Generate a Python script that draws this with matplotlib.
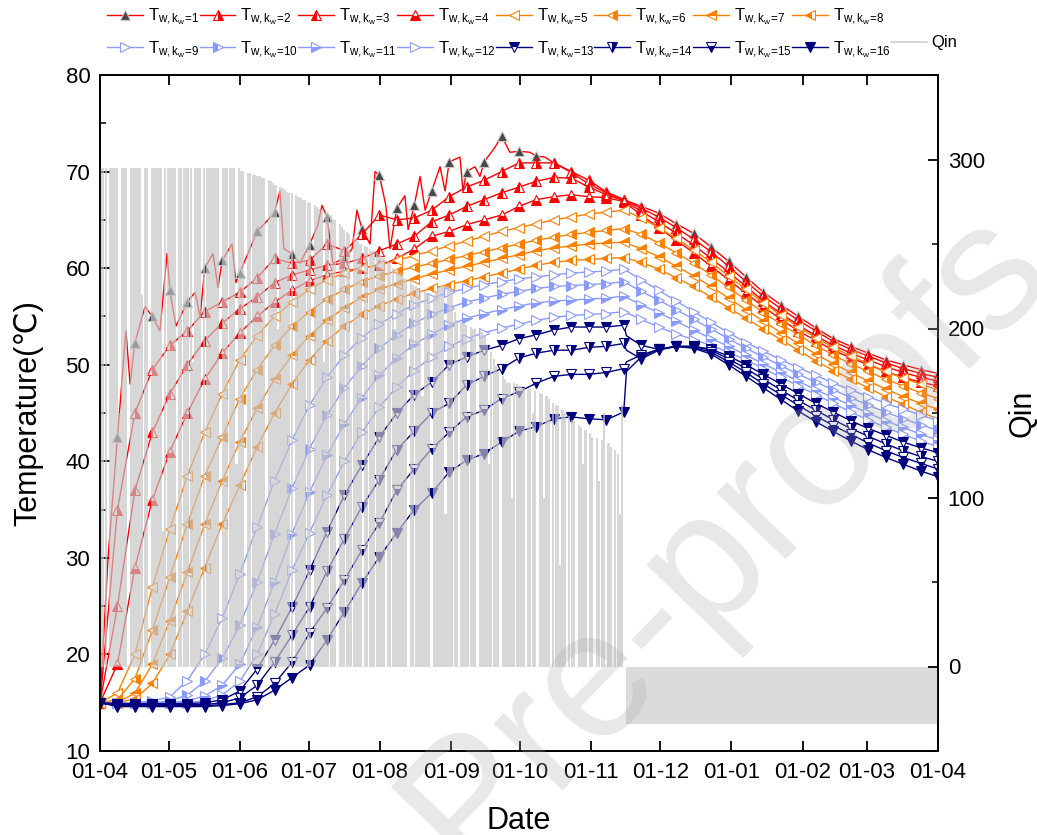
import matplotlib
matplotlib.use('Agg')
import matplotlib.pyplot as plt
from matplotlib.lines import Line2D
from matplotlib.ticker import MultipleLocator, FixedLocator

plt.rcParams['font.family'] = ['Liberation Sans', 'DejaVu Sans']
plt.rcParams['mathtext.fontset'] = 'custom'
plt.rcParams['mathtext.rm'] = 'Liberation Sans'
plt.rcParams['mathtext.it'] = 'Liberation Sans:italic'
plt.rcParams['mathtext.bf'] = 'Liberation Sans:bold'

# ---------------- data ----------------
month_days = [0, 30, 61, 91, 122, 153, 183, 214, 244, 275, 306, 334, 365]
month_labels = ['01-04', '01-05', '01-06', '01-07', '01-08', '01-09', '01-10',
                '01-11', '01-12', '01-01', '01-02', '01-03', '01-04']

STEP = 365 / 48                      # sampling step of the marked points (days)
grid_days = [k * STEP for k in range(49)]

T1 = [15.0, 42.5, 52.3, 55.0, 57.7, 56.5, 60.0, 60.8, 59.5, 63.8, 65.8, 61.5, 62.4, 65.3, 61.0, 64.1,
      69.6, 66.2, 66.5, 68.0, 71.0, 70.0, 71.0, 73.7, 72.1, 71.6, 70.9, 69.9, 68.7, 67.8, 67.1,
      66.4, 65.7, 64.6, 63.6, 62.2, 60.7, 59.1, 57.5, 56.2, 55.0, 53.8, 52.7, 51.9, 51.2, 50.5, 50.0, 49.5, 49.1]
T2 = [15.0, 35.0, 45.0, 49.5, 52.0, 53.5, 55.5, 56.5, 57.5, 59.0, 61.0, 60.5, 60.8, 62.5, 61.8, 63.5,
      65.5, 65.0, 65.2, 66.0, 67.4, 68.4, 69.1, 70.0, 70.9, 70.9, 70.9, 70.0, 69.1, 67.9, 67.1,
      66.2, 65.3, 64.2, 63.0, 61.7, 60.2, 58.6, 57.1, 55.8, 54.6, 53.5, 52.4, 51.6, 50.9, 50.2, 49.6, 49.1, 48.7]
T3 = [15.0, 25.0, 37.0, 43.0, 47.0, 50.0, 52.5, 54.3, 55.8, 57.0, 58.5, 59.3, 59.8, 60.3, 60.5, 61.0,
      61.8, 62.5, 63.3, 64.8, 65.5, 66.4, 67.1, 67.8, 68.4, 69.0, 69.4, 69.3, 68.4, 67.6, 67.0,
      65.9, 64.8, 63.6, 62.4, 61.0, 59.6, 58.1, 56.6, 55.3, 54.1, 53.0, 52.0, 51.2, 50.5, 49.8, 49.2, 48.7, 48.3]
T4 = [15.0, 19.0, 29.0, 36.0, 41.0, 45.0, 48.5, 51.2, 53.3, 55.0, 56.5, 57.7, 58.7, 59.3, 59.7, 60.0,
      60.3, 61.0, 62.0, 63.3, 63.8, 64.5, 65.0, 65.5, 66.4, 67.1, 67.4, 67.6, 67.4, 67.3, 66.9,
      65.5, 64.2, 62.9, 61.6, 60.2, 58.8, 57.4, 56.0, 54.7, 53.5, 52.5, 51.5, 50.7, 50.0, 49.3, 48.7, 48.2, 47.8]
T5 = [15.0, 16.0, 20.0, 27.0, 33.0, 38.5, 43.0, 47.0, 50.5, 53.0, 55.0, 56.5, 57.8, 58.8, 59.5, 60.0,
      60.3, 60.8, 61.3, 61.8, 62.3, 62.8, 63.3, 63.8, 64.2, 64.6, 65.0, 65.3, 65.6, 65.8, 66.0,
      65.2, 64.2, 63.1, 61.9, 60.6, 59.2, 57.8, 56.4, 55.1, 53.9, 52.8, 51.8, 50.9, 50.1, 49.3, 48.6, 48.0, 47.4]
T6 = [15.0, 15.3, 17.5, 22.5, 28.0, 33.5, 38.5, 42.5, 46.5, 49.5, 52.0, 54.0, 55.5, 56.8, 57.8, 58.6,
      59.2, 59.7, 60.1, 60.5, 60.9, 61.3, 61.7, 62.1, 62.5, 62.9, 63.2, 63.5, 63.7, 63.9, 64.1,
      63.5, 62.6, 61.6, 60.5, 59.3, 58.0, 56.7, 55.4, 54.2, 53.1, 52.0, 51.0, 50.1, 49.3, 48.5, 47.8, 47.1, 46.5]
T7 = [15.0, 15.0, 16.0, 19.0, 23.5, 28.5, 33.5, 38.0, 42.0, 45.5, 48.5, 51.0, 53.0, 54.6, 55.9, 57.0,
      57.8, 58.4, 58.9, 59.4, 59.8, 60.2, 60.6, 61.0, 61.4, 61.8, 62.1, 62.3, 62.5, 62.6, 62.7,
      62.0, 61.2, 60.2, 59.2, 58.1, 56.9, 55.7, 54.5, 53.3, 52.2, 51.1, 50.1, 49.2, 48.3, 47.5, 46.7, 46.0, 45.4]
T8 = [15.0, 15.0, 15.4, 17.0, 20.0, 24.5, 29.0, 33.5, 37.5, 41.5, 45.0, 48.0, 50.5, 52.5, 54.0, 55.2,
      56.1, 56.8, 57.4, 57.9, 58.3, 58.7, 59.1, 59.5, 59.9, 60.3, 60.6, 60.8, 60.9, 61.0, 61.1,
      60.6, 59.9, 59.0, 58.1, 57.0, 55.9, 54.8, 53.7, 52.6, 51.5, 50.4, 49.4, 48.5, 47.6, 46.7, 45.9, 45.1, 44.4]
T9 = [15.0, 15.0, 15.0, 15.2, 15.6, 17.3, 20.0, 23.8, 28.3, 33.2, 38.0, 42.2, 45.8, 48.7, 51.0, 52.8,
      54.2, 55.3, 56.2, 56.9, 57.5, 57.9, 58.3, 58.6, 58.9, 59.1, 59.3, 59.5, 59.6, 59.7, 59.9,
      58.8, 57.7, 56.6, 55.5, 54.4, 53.3, 52.3, 51.4, 50.5, 49.7, 48.9, 48.1, 47.4, 46.7, 46.0, 45.4, 44.8, 44.2]
T10 = [15.0, 15.0, 15.0, 15.0, 15.2, 15.8, 17.2, 19.6, 23.0, 27.5, 32.5, 37.2, 41.3, 44.8, 47.6, 49.9,
       51.7, 53.1, 54.3, 55.2, 55.9, 56.5, 56.9, 57.3, 57.6, 57.9, 58.1, 58.2, 58.3, 58.4, 58.6,
       57.6, 56.7, 55.7, 54.7, 53.7, 52.7, 51.7, 50.8, 49.9, 49.0, 48.2, 47.4, 46.6, 45.8, 45.1, 44.4, 43.8, 43.2]
T11 = [15.0, 15.0, 15.0, 15.0, 15.0, 15.2, 15.7, 16.8, 19.0, 22.8, 27.5, 32.5, 36.8, 40.6, 43.9, 46.6,
       48.9, 50.7, 52.1, 53.2, 54.1, 54.8, 55.3, 55.7, 56.1, 56.4, 56.6, 56.7, 56.8, 56.9, 57.1,
       56.2, 55.4, 54.5, 53.6, 52.7, 51.9, 51.0, 50.1, 49.2, 48.3, 47.4, 46.6, 45.8, 45.0, 44.2, 43.5, 42.8, 42.2]
T12 = [15.0, 15.0, 15.0, 15.0, 15.0, 15.0, 15.2, 15.8, 17.2, 20.0, 24.2, 28.7, 32.6, 36.5, 40.0, 43.0,
       45.6, 47.7, 49.4, 50.8, 51.9, 52.7, 53.3, 53.8, 54.2, 54.6, 54.9, 55.1, 55.2, 55.3, 55.5,
       54.7, 53.9, 53.2, 52.6, 52.0, 51.3, 50.5, 49.6, 48.7, 47.8, 46.9, 46.0, 45.1, 44.3, 43.5, 42.8, 42.1, 41.5]
T13 = [15.0, 14.9, 14.9, 14.9, 14.9, 14.9, 15.0, 15.3, 16.2, 18.5, 21.5, 24.9, 28.7, 32.7, 36.5, 39.6,
       42.5, 45.0, 46.9, 48.2, 50.0, 50.8, 51.5, 52.0, 52.7, 53.1, 53.6, 53.9, 53.9, 53.9, 54.1,
       52.0, 51.6, 51.9, 51.9, 51.6, 50.9, 50.0, 49.0, 48.0, 47.0, 46.0, 45.1, 44.2, 43.4, 42.7, 42.0, 41.4, 40.9]
T14 = [15.0, 14.8, 14.8, 14.8, 14.8, 14.8, 14.8, 15.0, 15.5, 16.8, 19.2, 22.0, 24.9, 28.6, 32.0, 35.3,
       38.1, 41.2, 43.1, 45.0, 46.0, 47.9, 48.8, 49.6, 50.7, 51.2, 51.5, 51.5, 51.8, 51.9, 52.2,
       50.6, 51.5, 51.9, 51.9, 51.5, 50.6, 49.6, 48.5, 47.4, 46.3, 45.3, 44.3, 43.4, 42.6, 41.8, 41.1, 40.5, 40.0]
T15 = [15.0, 14.7, 14.7, 14.7, 14.7, 14.7, 14.7, 14.8, 15.0, 15.6, 17.0, 19.2, 22.2, 24.8, 27.7, 30.8,
       33.6, 37.0, 39.2, 41.3, 43.0, 44.6, 45.3, 46.5, 47.2, 48.1, 48.8, 49.0, 49.0, 49.2, 49.6,
       51.0, 51.6, 51.9, 51.8, 51.3, 50.3, 49.2, 48.0, 46.9, 45.8, 44.7, 43.7, 42.8, 41.9, 41.1, 40.4, 39.8, 39.2]
T16 = [15.0, 14.6, 14.6, 14.6, 14.6, 14.6, 14.6, 14.7, 14.9, 15.3, 16.3, 17.6, 18.9, 21.5, 24.4, 27.4,
       30.1, 32.6, 35.0, 36.7, 38.9, 40.1, 40.8, 42.0, 43.1, 43.6, 44.4, 44.6, 44.4, 44.3, 45.1,
       50.8, 51.6, 51.9, 51.7, 51.1, 50.0, 48.8, 47.6, 46.4, 45.2, 44.1, 43.1, 42.1, 41.2, 40.4, 39.7, 39.0, 38.4]

# additional (unmarked) readings between markers: (day, value)
T1_extra = [(3.5, 30.0), (11.3, 53.5), (13.1, 48.0), (19.6, 56.0), (26.1, 53.5), (29.2, 61.5),
            (33.1, 54.0), (41.4, 57.5), (43.6, 55.0), (49.2, 61.5), (51.4, 58.0), (57.5, 62.5),
            (59.2, 58.5), (65.3, 62.0), (73.2, 65.0), (78.4, 68.0), (80.1, 62.0), (87.1, 60.5),
            (94.9, 64.5), (96.7, 66.5), (101.5, 60.5), (109.8, 62.0), (111.9, 66.0), (117.6, 62.5),
            (119.8, 70.0), (124.5, 66.5), (126.3, 62.0), (132.8, 67.5), (134.2, 64.0), (139.4, 69.5),
            (141.6, 66.0), (148.1, 70.5), (150.3, 68.0), (156.8, 71.5), (158.1, 68.0), (163.3, 70.5),
            (165.5, 69.5), (172.0, 72.5), (178.5, 72.0), (187.2, 72.0), (193.7, 71.5)]
T13_extra = [(229.3, 53.0)]
T14_extra = [(229.3, 51.5)]
T15_extra = [(229.3, 50.3)]
T16_extra = [(229.3, 49.3)]

# Qin: daily peak of charging (1 Apr .. 15 Nov), then extraction level
qin_heat = [
    295, 295, 295, 0, 295, 295, 295, 295, 150, 295, 295, 295, 0, 295, 295, 295, 295, 295, 220, 295,
    295, 0, 295, 295, 295, 295, 295, 80, 295, 295,
    295, 295, 295, 0, 295, 295, 295, 295, 295, 295, 180, 295, 295, 295, 0, 295, 295, 295, 295, 295,
    295, 295, 0, 295, 295, 295, 295, 295, 295, 120, 295,
    293, 293, 0, 292, 292, 291, 291, 290, 290, 289, 289, 0, 288, 287, 286, 285, 200, 284, 283, 282,
    281, 280, 280, 0, 279, 278, 277, 276, 276, 275,
    274, 0, 273, 272, 271, 270, 180, 269, 268, 267, 265, 264, 0, 262, 260, 258, 257, 256, 150, 254,
    253, 252, 250, 0, 249, 248, 247, 246, 246, 245, 244,
    243, 242, 0, 240, 238, 236, 200, 235, 233, 232, 230, 229, 0, 228, 226, 225, 224, 223, 160, 222,
    221, 220, 0, 220, 222, 224, 225, 225, 90, 225, 224,
    220, 210, 205, 0, 204, 203, 202, 150, 201, 200, 200, 0, 200, 198, 196, 190, 120, 186, 182, 178,
    175, 0, 172, 170, 168, 168, 100, 168, 167, 166,
    166, 165, 0, 165, 164, 150, 163, 0, 162, 161, 100, 160, 158, 0, 156, 155, 154, 60, 152, 150,
    0, 148, 146, 145, 0, 143, 142, 120, 140, 0, 138,
    136, 0, 135, 110, 134, 150, 0, 132, 130, 0, 128, 126, 90, 155, 0]
qin_heat_days = list(range(len(qin_heat)))
QIN_EXTRACT = -34
qin_extract_days = list(range(len(qin_heat), 365))
qin_extract = [QIN_EXTRACT for _ in qin_extract_days]

# ---------------- styles ----------------
RED = '#ff0000'
ORG = '#ff8000'
LBL = '#8a9bff'
NAV = '#00007f'
styles = [
    ('^', RED, '#474747', 'full', '#c8c8c8'),
    ('^', RED, RED, 'right', RED),
    ('^', RED, RED, 'left', RED),
    ('^', RED, RED, 'bottom', RED),
    ('<', ORG, 'white', 'full', ORG),
    ('<', ORG, ORG, 'right', ORG),
    ('<', ORG, ORG, 'top', ORG),
    ('<', ORG, ORG, 'left', ORG),
    ('>', LBL, 'white', 'full', LBL),
    ('>', LBL, LBL, 'left', LBL),
    ('>', LBL, LBL, 'bottom', LBL),
    ('>', LBL, 'white', 'full', LBL),
    ('v', NAV, NAV, 'top', NAV),
    ('v', NAV, NAV, 'right', NAV),
    ('v', NAV, NAV, 'bottom', NAV),
    ('v', NAV, NAV, 'full', NAV),
]
series = [T1, T2, T3, T4, T5, T6, T7, T8, T9, T10, T11, T12, T13, T14, T15, T16]
extras = {0: T1_extra, 12: T13_extra, 13: T14_extra, 14: T15_extra, 15: T16_extra}

# ---------------- figure ----------------
fig = plt.figure(figsize=(10.37, 8.35), dpi=100)
ax = fig.add_axes([100 / 1037, 1 - 751 / 835, 838 / 1037, 676 / 835])
ax2 = ax.twinx()

handles = []
for i, vals in enumerate(series):
    pts = [(d, v, True) for d, v in zip(grid_days, vals)]
    pts += [(d, v, False) for d, v in extras.get(i, [])]
    pts.sort(key=lambda p: p[0])
    xs = [p[0] for p in pts]
    ys = [p[1] for p in pts]
    mk = [j for j, p in enumerate(pts) if p[2]]
    m, c, fc, fs, ec = styles[i]
    ln, = ax.plot(xs, ys, color=c, lw=1.0, marker=m, markevery=mk, ms=7.5,
                  mfc=fc, mec=ec, mew=0.8, fillstyle=fs, markerfacecoloralt='white',
                  label=r'$\mathrm{T_{w,k_{w}\!=\!%d}}$' % (i + 1))
    handles.append(ln)

# Qin drawn on the right axis (on top, semi-transparent)
ax2.bar(qin_heat_days, qin_heat, width=0.93, align='edge', color='#c4c4c4', alpha=0.68, linewidth=0)
ax2.bar(qin_extract_days, qin_extract, width=1.0, align='edge', color='#c4c4c4', alpha=0.6, linewidth=0)
qin_handle = Line2D([], [], color='#d0d0d0', lw=1.2)

# axes formatting
ax.set_xlim(0, 365)
ax.set_ylim(10, 80)
ax2.set_ylim(-50, 350)
ax.xaxis.set_major_locator(FixedLocator(month_days))
ax.set_xticklabels(month_labels)
ax.yaxis.set_major_locator(MultipleLocator(10))
ax.yaxis.set_minor_locator(MultipleLocator(5))
ax2.yaxis.set_major_locator(FixedLocator([0, 100, 200, 300]))
ax2.yaxis.set_minor_locator(MultipleLocator(50))

for a in (ax, ax2):
    for s in a.spines.values():
        s.set_linewidth(1.3)
ax.tick_params(axis='x', which='major', direction='in', length=7, width=1.3, top=True,
               labelsize=16, pad=8)
ax.tick_params(axis='y', which='major', direction='in', length=7, width=1.3, labelsize=16, pad=7)
ax.tick_params(axis='y', which='minor', direction='in', length=4, width=1.1)
ax2.tick_params(axis='y', which='major', direction='in', length=7, width=1.3, labelsize=16, pad=7)
ax2.tick_params(axis='y', which='minor', direction='in', length=4, width=1.1)

ax.set_xlabel('Date', fontsize=22)
ax.xaxis.set_label_coords(0.5, -0.082)
ax.set_ylabel('Temperature(\u2103)', fontsize=22)
ax.yaxis.set_label_coords(-0.068, 0.5)
ax2.set_ylabel('Qin', fontsize=22)
ax2.yaxis.set_label_coords(1.083, 0.5)

# legend: two rows (1-8 / 9-16 + Qin)
blank = Line2D([], [], linestyle='none')
order_h, order_l = [], []
for j in range(8):
    order_h += [handles[j], handles[j + 8]]
    order_l += [handles[j].get_label(), handles[j + 8].get_label()]
order_h += [blank, qin_handle]
order_l += ['', 'Qin']
fig.legend(order_h, order_l, loc='upper left', bbox_to_anchor=(0.102, 0.994), ncol=9,
           frameon=False, fontsize=12, handlelength=2.15, handletextpad=0.3,
           columnspacing=0.0, labelspacing=0.7, borderaxespad=0.0, borderpad=0.1)

# watermark
fig.text(0.70, 0.355, 'Pre-proofs', rotation=46, fontsize=130, color='#a8a8a8', alpha=0.26,
         ha='center', va='center', zorder=20)

fig.savefig('out.png', dpi=100)
